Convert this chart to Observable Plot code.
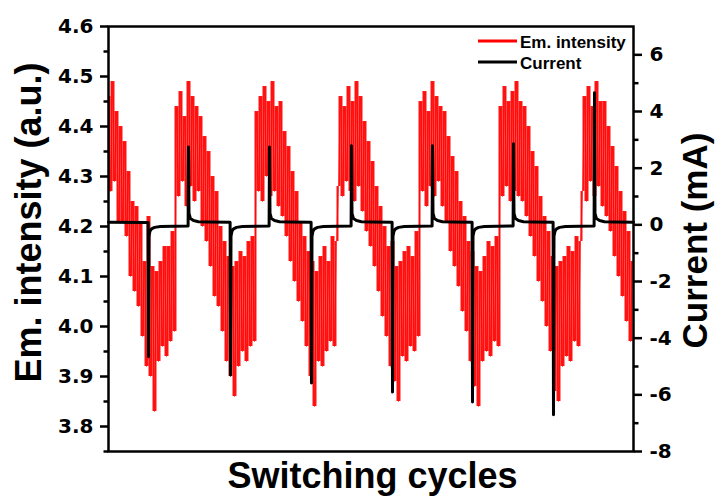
<!DOCTYPE html>
<html><head><meta charset="utf-8">
<script src="https://cdn.jsdelivr.net/npm/d3@7"></script>
<script src="https://cdn.jsdelivr.net/npm/@observablehq/plot@0.6"></script>
<style>body{margin:0;background:#fff}</style>
</head><body><div id="chart"></div>
<script>
// Emission intensity (a.u.), sampled every 2 time units from t = 0
const emissionStep = 2;
const emission = [
4.46,4.27,4.49,4.29,4.43,4.21,4.40,4.21,4.37,4.18,
4.31,4.10,4.25,4.07,4.24,4.04,4.21,3.98,4.13,3.92,
4.22,3.90,4.12,3.83,4.11,3.93,4.13,3.96,4.16,3.94,
4.16,3.97,4.19,3.99,
4.44,4.26,4.47,4.29,4.42,4.24,4.49,4.28,4.46,4.25,
4.44,4.27,4.42,4.20,4.38,4.17,4.35,4.12,4.30,4.06,
4.27,4.04,4.20,3.99,4.17,3.93,4.14,3.90,4.12,3.86,
4.13,3.92,4.15,3.95,4.14,3.93,4.17,3.96,4.18,3.97,
4.43,4.27,4.46,4.25,4.48,4.30,4.45,4.26,4.49,4.27,
4.44,4.24,4.45,4.22,4.39,4.18,4.36,4.13,4.31,4.09,
4.27,4.05,4.21,4.01,4.18,3.96,4.15,3.90,4.13,3.84,
4.11,3.93,4.14,3.92,4.16,3.95,4.13,3.97,4.18,3.96,
4.17,
4.28,4.46,4.26,4.44,4.29,4.48,4.27,4.45,4.25,4.49,
4.28,4.46,4.23,4.41,4.19,4.37,4.16,4.33,4.12,4.28,
4.07,4.24,4.02,4.20,3.98,4.16,3.92,4.17,3.89,4.12,
3.85,4.13,3.94,4.15,3.93,4.16,3.96,4.14,3.95,4.19,
3.98,
4.45,4.27,4.47,4.24,4.43,4.28,4.49,4.26,4.46,4.29,
4.44,4.24,4.43,4.21,4.38,4.15,4.34,4.12,4.31,4.08,
4.25,4.03,4.22,3.99,4.17,3.93,4.15,3.88,4.12,3.84,
4.11,3.93,4.14,3.95,4.17,3.94,4.16,3.97,4.18,3.96,
4.44,4.26,4.48,4.28,4.45,4.25,4.47,4.27,4.49,4.26,
4.45,4.25,4.44,4.22,4.40,4.18,4.35,4.14,4.32,4.09,
4.26,4.05,4.22,4.00,4.19,3.95,4.14,3.87,4.12,3.85,
4.13,3.92,4.14,3.94,4.16,3.93,4.15,3.97,4.18,3.96,
4.17,
4.27,4.46,4.25,4.48,4.29,4.44,4.26,4.49,4.28,4.45,
4.24,4.45,4.22,4.40,4.19,4.36,4.14,4.32,4.10,4.27,
4.06,4.23,4.01,4.19,3.97,4.13
];

// Current (mA)
const currentTime = [
0, 39.6, 40, 40.5, 41.5, 43, 46, 52, 79.6, 80, 80.5, 82, 85, 90, 100,
121.6, 122, 122.5, 123.5, 125, 128, 134, 160.6, 161, 161.5, 163, 166, 171, 181,
202.6, 203, 203.5, 204.5, 206, 209, 215, 242.6, 243, 243.5, 245, 248, 253, 263,
283.6, 284, 284.5, 285.5, 287, 290, 296, 323.6, 324, 324.5, 326, 329, 334, 344,
363.6, 364, 364.5, 365.5, 367, 370, 376, 404.6, 405, 405.5, 407, 410, 415, 425,
444.6, 445, 445.5, 446.5, 448, 451, 457, 485.6, 486, 486.5, 488, 491, 496, 506,
525
];
const currentValue = [
0.09, 0.08, -4.66, -0.4, -0.22, -0.14, -0.09, -0.06, -0.04, 2.75, 0.4, 0.22, 0.15, 0.11, 0.1,
0.09, -5.3, -0.4, -0.22, -0.14, -0.09, -0.06, -0.04, 2.75, 0.4, 0.22, 0.15, 0.11, 0.1,
0.09, -5.58, -0.4, -0.22, -0.14, -0.09, -0.06, -0.04, 2.79, 0.4, 0.22, 0.15, 0.11, 0.1,
0.09, -5.9, -0.4, -0.22, -0.14, -0.09, -0.06, -0.04, 2.79, 0.4, 0.22, 0.15, 0.11, 0.1,
0.09, -6.25, -0.4, -0.22, -0.14, -0.09, -0.06, -0.04, 2.86, 0.4, 0.22, 0.15, 0.11, 0.1,
0.09, -6.7, -0.4, -0.22, -0.14, -0.09, -0.06, -0.04, 4.66, 0.4, 0.22, 0.15, 0.11, 0.1,
0.09
];

const leftTicks = [3.8, 3.9, 4.0, 4.1, 4.2, 4.3, 4.4, 4.5, 4.6];
const leftMinorTicks = [3.75, 3.85, 3.95, 4.05, 4.15, 4.25, 4.35, 4.45, 4.55];
const rightTicks = [-8, -6, -4, -2, 0, 2, 4, 6];
const rightMinorTicks = [-7, -5, -3, -1, 1, 3, 5];
const leftDomain = [3.75, 4.6];
const currentDomain = [-8, 7];
const timeDomain = [0, 525];

const k = (leftDomain[1] - leftDomain[0]) / (currentDomain[1] - currentDomain[0]);
const toLeft = v => leftDomain[0] + (v - currentDomain[0]) * k;
const fromLeft = y => currentDomain[0] + (y - leftDomain[0]) / k;

const emData = emission.map((v, i) => ({t: i * emissionStep, v}));
// consecutive sample pairs: the noisy trace fills the span between neighbours
const emSpans = emData.slice(0, -1).map((d, i) => ({t: d.t, a: d.v, b: emData[i + 1].v}));
const curData = currentTime.map((t, i) => ({t, v: toLeft(currentValue[i])}));

const tickFont = {fontSize: 20, fontFamily: "DejaVu Sans", fontWeight: "bold"};

const plot = Plot.plot({
  width: 715, height: 497,
  marginLeft: 108, marginRight: 82, marginTop: 26, marginBottom: 46,
  x: {domain: timeDomain, axis: null},
  y: {domain: leftDomain, axis: null},
  style: {fontFamily: "Liberation Sans, Arial, sans-serif", fontWeight: "bold", background: "white", color: "black"},
  marks: [
    Plot.ruleX(emSpans, {x: "t", y1: "a", y2: "b", dx: 1, stroke: "#ff0000", strokeWidth: 2, strokeOpacity: 0.92}),
    Plot.line(emData, {x: "t", y: "v", stroke: "#ff0000", strokeWidth: 1, strokeOpacity: 0.6}),
    Plot.line(curData, {x: "t", y: "v", stroke: "black", strokeWidth: 3, strokeLinejoin: "round"}),
    Plot.frame({stroke: "black", strokeWidth: 2.5}),
    Plot.axisY(leftTicks, {anchor: "left", tickSize: 8, tickPadding: 7, strokeWidth: 2.5,
      tickFormat: d => d.toFixed(1), label: null, ...tickFont}),
    Plot.axisY(leftMinorTicks, {anchor: "left", tickSize: 4.5, strokeWidth: 2.5, tickFormat: () => "", label: null}),
    Plot.axisY(rightTicks.map(toLeft), {anchor: "right", tickSize: 8, tickPadding: 8, strokeWidth: 2.5,
      tickFormat: d => String(Math.round(fromLeft(d))), label: null, ...tickFont}),
    Plot.axisY(rightMinorTicks.map(toLeft), {anchor: "right", tickSize: 4.5, strokeWidth: 2.5, tickFormat: () => "", label: null}),
    Plot.text(["Em. intensity (a.u.)"], {frameAnchor: "left", textAnchor: "middle", dx: -79, dy: -16.5, rotate: -90, fontSize: 36, fontWeight: "bold"}),
    Plot.text(["Current (mA)"], {frameAnchor: "right", textAnchor: "middle", dx: 62, dy: 1.5, rotate: -90, fontSize: 35, fontWeight: "bold"}),
    Plot.text(["Switching cycles"], {frameAnchor: "bottom", lineAnchor: "middle", dx: 1.5, dy: 25, fontSize: 36, fontWeight: "bold"})
  ]
});

// Legend (inside the top-right of the frame)
const legendItems = [
  {label: "Em. intensity", color: "#ff0000"},
  {label: "Current", color: "black"}
];
const lg = d3.select(plot).append("g")
  .attr("font-family", "Liberation Sans, Arial, sans-serif")
  .attr("font-weight", "bold").attr("font-size", 17)
  .attr("text-anchor", "start");
legendItems.forEach((item, i) => {
  const y = 41 + i * 21;
  lg.append("line").attr("x1", 478).attr("x2", 517).attr("y1", y).attr("y2", y)
    .attr("stroke", item.color).attr("stroke-width", 3);
  lg.append("text").attr("x", 520).attr("y", y + 6.5).attr("fill", "black").text(item.label);
});

document.getElementById("chart").appendChild(plot);
</script>
</body></html>
